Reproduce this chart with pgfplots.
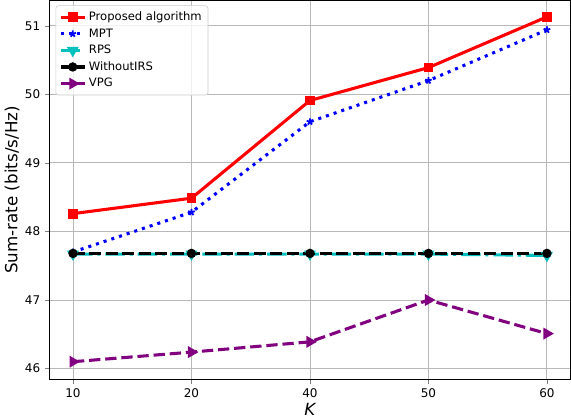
\documentclass[border=0pt]{standalone}
\usepackage{pgfplots}
\pgfplotsset{compat=1.18}
\usepackage{fontspec}
\setmainfont{DejaVu Sans}
\definecolor{mplcyan}{HTML}{00BFBF}
\definecolor{mplpurple}{HTML}{800080}
\begin{document}
\begin{tikzpicture}
\begin{axis}[
  scale only axis, width=374pt, height=272pt,
  xmin=-0.2, xmax=4.2, ymin=45.84, ymax=51.37,
  xtick={0,1,2,3,4}, xticklabels={10,20,40,50,60},
  ytick={46,47,48,49,50,51},
  /pgf/number format/assume math mode=true,
  tick label style={font=\fontsize{8.6}{10}\selectfont},
  tick align=outside, tick pos=left,
  major tick length=3pt,
  grid=major, grid style={color=black!28, line width=0.6pt},
  axis line style={line width=0.6pt},
  xlabel={\itshape K}, ylabel={Sum-rate (bits/s/Hz)},
  label style={font=\fontsize{12}{14}\selectfont},
  xlabel style={yshift=3pt},
  ylabel style={yshift=-3pt},
  legend style={at={(0.012,0.987)}, anchor=north west, draw=black!20, rounded corners=2pt,
    fill=white, fill opacity=0.8, text opacity=1, font=\fontsize{8.3}{10}\selectfont,
    row sep=0.2pt, inner sep=2.5pt},
  legend cell align=left,
]
\addplot[color=red, line width=2.2pt, mark=square*, mark size=2.4pt, mark options={solid}]
  coordinates {(0,48.26) (1,48.485) (2,49.91) (3,50.39) (4,51.13)};
\addlegendentry{Proposed algorithm}
\addplot[color=blue, line width=2.2pt, dash pattern=on 2.2pt off 3.6pt, mark=star, mark size=2.5pt, mark options={solid, line width=1.3pt}]
  coordinates {(0,47.70) (1,48.28) (2,49.60) (3,50.20) (4,50.94)};
\addlegendentry{MPT}
\addplot[color=mplcyan, line width=2.2pt, dash pattern=on 14pt off 3.5pt on 2.2pt off 3.5pt, mark=triangle*, mark size=2.8pt, mark options={solid, rotate=180}]
  coordinates {(0,47.67) (1,47.67) (2,47.67) (3,47.67) (4,47.65)};
\addlegendentry{RPS}
\addplot[color=black, line width=2.2pt, dash pattern=on 8.6pt off 3.2pt, mark=*, mark size=2.2pt, mark options={solid}]
  coordinates {(0,47.68) (1,47.68) (2,47.68) (3,47.68) (4,47.68)};
\addlegendentry{WithoutIRS}
\addplot[color=mplpurple, line width=2.2pt, dash pattern=on 8.1pt off 3.5pt, mark=triangle*, mark size=2.8pt, mark options={solid, rotate=-90}]
  coordinates {(0,46.10) (1,46.24) (2,46.39) (3,47.00) (4,46.51)};
\addlegendentry{VPG}
\end{axis}
\end{tikzpicture}
\end{document}
